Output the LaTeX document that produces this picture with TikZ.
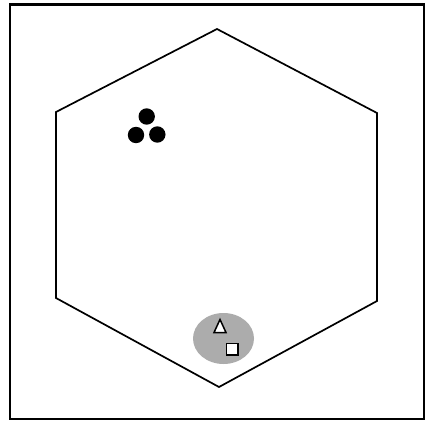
\documentclass[tikz,border=0pt]{standalone}
\usepackage{tikz}
\usetikzlibrary{calc}

\begin{document}
\begin{tikzpicture}[x=1pt,y=-1pt]
					\useasboundingbox (0,0) rectangle (427,422);
					% Ramka
					\draw[line width=2.5pt] (10,4.5) rectangle (424,419);
					
					% Wierzcholki szesciokata
					\coordinate (H0) at (217,29);
					\coordinate (H1) at (377,113);
					\coordinate (H2) at (377,301);
					\coordinate (H3) at (219,387);
					\coordinate (H4) at (56,298);
					\coordinate (H5) at (56,112);
					
					% Szesciokat
					\draw[line width=1.7pt, line join=miter] (H0) -- (H1) -- (H2) -- (H3) -- (H4) -- (H5) -- cycle;
					
					% Kropki
					\fill[black] (146.7,116.5) circle (8.2);
					\fill[black] (136,135) circle (8.2);
					\fill[black] (157.3,134.5) circle (8.2);
					
					% Elipsa z symbolami
					\coordinate (E) at (223.5,338.5);
					\fill[gray!65] (E) ellipse (30.5 and 25.5);
					\draw[fill=white, line width=1.5pt, line join=miter] (220,319.5) -- (226,332.5) -- (214,332.5) -- cycle;
					\draw[fill=white, line width=1.5pt] (226.5,343.5) rectangle (238,355);
				\end{tikzpicture}
\end{document}
